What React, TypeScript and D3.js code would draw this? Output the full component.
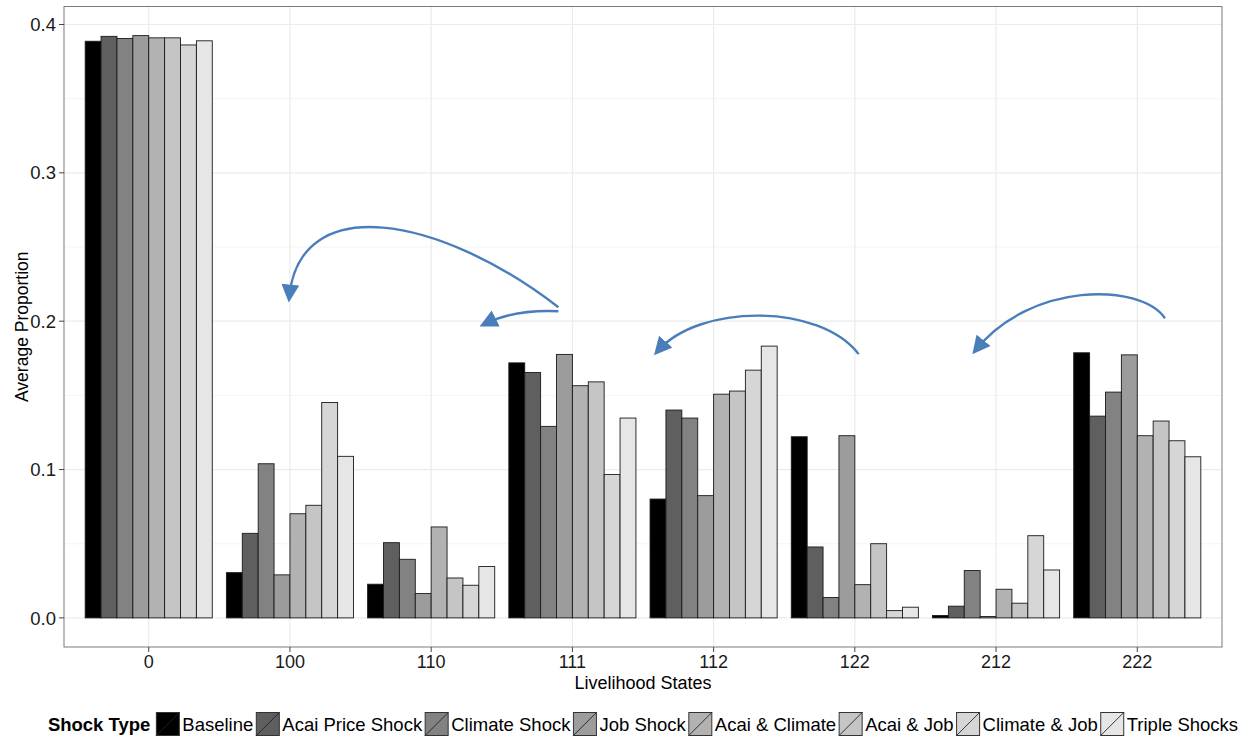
import React, { useEffect, useRef } from "react";
import * as d3 from "d3";

const categories = ["0", "100", "110", "111", "112", "122", "212", "222"];
const shockTypes = [
  "Baseline",
  "Acai Price Shock",
  "Climate Shock",
  "Job Shock",
  "Acai & Climate",
  "Acai & Job",
  "Climate & Job",
  "Triple Shocks",
];
const fillColors = ["#000000", "#5f5f5f", "#828282", "#9c9c9c", "#b2b2b2", "#c5c5c5", "#d6d6d6", "#e6e6e6"];

const baseline = [0.3887, 0.0305, 0.0227, 0.1719, 0.0801, 0.1221, 0.0016, 0.1787];
const acaiPrice = [0.392, 0.057, 0.0507, 0.1654, 0.1401, 0.0478, 0.0079, 0.136];
const climate = [0.3906, 0.1039, 0.0395, 0.1291, 0.1347, 0.0137, 0.0319, 0.1522];
const job = [0.3925, 0.029, 0.0164, 0.1776, 0.0824, 0.1228, 0.0009, 0.1773];
const acaiClimate = [0.391, 0.0702, 0.0613, 0.1565, 0.1508, 0.0224, 0.0193, 0.1228];
const acaiJob = [0.391, 0.0759, 0.0269, 0.1591, 0.1529, 0.05, 0.0099, 0.1327];
const climateJob = [0.3862, 0.1452, 0.022, 0.0967, 0.167, 0.0049, 0.0554, 0.1194];
const triple = [0.389, 0.1089, 0.0346, 0.1347, 0.1832, 0.0072, 0.0323, 0.1086];
const seriesValues = [baseline, acaiPrice, climate, job, acaiClimate, acaiJob, climateJob, triple];

const yTicks = [0, 0.1, 0.2, 0.3, 0.4];
const yMinorTicks = [0.05, 0.15, 0.25, 0.35];

// Annotation arrows in data coordinates: [category position (1-based), value]
const arrow1 = [[3.901, 0.2094], [3.057, 0.2714], [2.066, 0.2883], [1.995, 0.2162]];
const arrow2 = [[3.901, 0.2067], [3.589, 0.2081], [3.377, 0.198]];
const arrow3 = [[6.027, 0.1778], [5.751, 0.2121], [4.9, 0.2121], [4.603, 0.1798]];
const arrow4 = [[8.196, 0.202], [8.019, 0.2263], [7.239, 0.2263], [6.856, 0.1805]];
const arrows = [arrow1, arrow2, arrow3, arrow4];

const FONT = "'Liberation Sans', Arial, Helvetica, sans-serif";

export default function App() {
  const ref = useRef<SVGSVGElement>(null);

  useEffect(() => {
    const svg = d3.select(ref.current);
    svg.selectAll("*").remove();

    const panel = { left: 64, right: 1222, top: 6.5, bottom: 647 };
    const maxV = d3.max(seriesValues.flat()) as number;
    const y = d3
      .scaleLinear()
      .domain([-0.05 * maxV, maxV * 1.05])
      .range([panel.bottom, panel.top]);
    const xc = d3
      .scaleLinear()
      .domain([0.4, categories.length + 0.6])
      .range([panel.left, panel.right]);
    const step = xc(2) - xc(1);
    const inner = d3
      .scaleBand<string>()
      .domain(shockTypes)
      .range([-0.45 * step, 0.45 * step])
      .padding(0);

    const g = svg.append("g");

    // grid
    g.selectAll("line.minor")
      .data(yMinorTicks)
      .enter()
      .append("line")
      .attr("x1", panel.left)
      .attr("x2", panel.right)
      .attr("y1", (d) => y(d))
      .attr("y2", (d) => y(d))
      .attr("stroke", "#f3f3f3")
      .attr("stroke-width", 0.8);
    g.selectAll("line.major")
      .data(yTicks)
      .enter()
      .append("line")
      .attr("x1", panel.left)
      .attr("x2", panel.right)
      .attr("y1", (d) => y(d))
      .attr("y2", (d) => y(d))
      .attr("stroke", "#ebebeb")
      .attr("stroke-width", 1.2);
    g.selectAll("line.vmajor")
      .data(categories)
      .enter()
      .append("line")
      .attr("x1", (_d, i) => xc(i + 1))
      .attr("x2", (_d, i) => xc(i + 1))
      .attr("y1", panel.top)
      .attr("y2", panel.bottom)
      .attr("stroke", "#ebebeb")
      .attr("stroke-width", 1.2);

    // bars
    shockTypes.forEach((s, si) => {
      g.append("g")
        .selectAll("rect")
        .data(seriesValues[si])
        .enter()
        .append("rect")
        .attr("x", (_d, ci) => xc(ci + 1) + (inner(s) as number))
        .attr("width", inner.bandwidth())
        .attr("y", (d) => y(d))
        .attr("height", (d) => y(0) - y(d))
        .attr("fill", fillColors[si])
        .attr("stroke", "#1a1a1a")
        .attr("stroke-width", 0.9);
    });

    // panel border
    g.append("rect")
      .attr("x", panel.left)
      .attr("y", panel.top)
      .attr("width", panel.right - panel.left)
      .attr("height", panel.bottom - panel.top)
      .attr("fill", "none")
      .attr("stroke", "#7a7a7a")
      .attr("stroke-width", 1);

    // y axis ticks + labels
    yTicks.forEach((t) => {
      g.append("line")
        .attr("x1", panel.left - 5)
        .attr("x2", panel.left)
        .attr("y1", y(t))
        .attr("y2", y(t))
        .attr("stroke", "#444")
        .attr("stroke-width", 1);
      g.append("text")
        .attr("x", panel.left - 8)
        .attr("y", y(t))
        .attr("dy", "0.36em")
        .attr("text-anchor", "end")
        .attr("font-family", FONT)
        .attr("font-size", 18.5)
        .attr("fill", "#1a1a1a")
        .text(t.toFixed(1));
    });

    // x axis ticks + labels
    categories.forEach((c, i) => {
      g.append("line")
        .attr("x1", xc(i + 1))
        .attr("x2", xc(i + 1))
        .attr("y1", panel.bottom)
        .attr("y2", panel.bottom + 5)
        .attr("stroke", "#444")
        .attr("stroke-width", 1);
      g.append("text")
        .attr("x", xc(i + 1))
        .attr("y", 662)
        .attr("dy", "0.36em")
        .attr("text-anchor", "middle")
        .attr("font-family", FONT)
        .attr("font-size", 18)
        .attr("fill", "#1a1a1a")
        .text(c);
    });

    // axis titles
    g.append("text")
      .attr("x", (panel.left + panel.right) / 2)
      .attr("y", 683)
      .attr("dy", "0.36em")
      .attr("text-anchor", "middle")
      .attr("font-family", FONT)
      .attr("font-size", 18)
      .attr("fill", "#000")
      .text("Livelihood States");
    g.append("text")
      .attr("transform", `translate(22,${(panel.top + panel.bottom) / 2}) rotate(-90)`)
      .attr("dy", "0.36em")
      .attr("text-anchor", "middle")
      .attr("font-family", FONT)
      .attr("font-size", 17.5)
      .attr("fill", "#000")
      .text("Average Proportion");

    // arrows
    const defs = svg.append("defs");
    defs
      .append("marker")
      .attr("id", "arrowhead")
      .attr("viewBox", "0 0 10 10")
      .attr("refX", 7)
      .attr("refY", 5)
      .attr("markerWidth", 7.5)
      .attr("markerHeight", 7.5)
      .attr("markerUnits", "strokeWidth")
      .attr("orient", "auto")
      .append("path")
      .attr("d", "M0,0 L10,5 L0,10 Z")
      .attr("fill", "#4a7ebb");

    arrows.forEach((a) => {
      const p = d3.path();
      const pts = a.map(([u, v]) => [xc(u), y(v)]);
      p.moveTo(pts[0][0], pts[0][1]);
      if (pts.length === 4) {
        p.bezierCurveTo(pts[1][0], pts[1][1], pts[2][0], pts[2][1], pts[3][0], pts[3][1]);
      } else {
        p.quadraticCurveTo(pts[1][0], pts[1][1], pts[2][0], pts[2][1]);
      }
      g.append("path")
        .attr("d", p.toString())
        .attr("fill", "none")
        .attr("stroke", "#4a7ebb")
        .attr("stroke-width", 2.4)
        .attr("marker-end", "url(#arrowhead)");
    });

    // legend
    const lg = svg.append("g");
    const ly = 724;
    const key = 23;
    let cx = 0;
    const title = lg
      .append("text")
      .attr("x", cx)
      .attr("y", ly)
      .attr("dy", "0.36em")
      .attr("font-family", FONT)
      .attr("font-size", 18.5)
      .attr("font-weight", "bold")
      .attr("fill", "#000")
      .text("Shock Type");
    cx += (title.node() as SVGTextElement).getComputedTextLength() + 6;
    shockTypes.forEach((s, i) => {
      lg.append("rect")
        .attr("x", cx)
        .attr("y", ly - key / 2)
        .attr("width", key)
        .attr("height", key)
        .attr("fill", fillColors[i])
        .attr("stroke", "#333")
        .attr("stroke-width", 1);
      lg.append("line")
        .attr("x1", cx)
        .attr("y1", ly + key / 2)
        .attr("x2", cx + key)
        .attr("y2", ly - key / 2)
        .attr("stroke", "#222")
        .attr("stroke-width", 0.9);
      cx += key + 3;
      const t = lg
        .append("text")
        .attr("x", cx)
        .attr("y", ly)
        .attr("dy", "0.36em")
        .attr("font-family", FONT)
        .attr("font-size", 18.5)
        .attr("fill", "#000")
        .text(s);
      cx += (t.node() as SVGTextElement).getComputedTextLength() + 3;
    });
    const totalW = cx - 3;
    lg.attr("transform", `translate(${(panel.left + panel.right) / 2 - totalW / 2},0)`);
  }, []);

  return (
    <svg
      ref={ref}
      width={1255}
      height={740}
      style={{ position: "absolute", left: 0, top: 0, background: "#fff" }}
    />
  );
}
